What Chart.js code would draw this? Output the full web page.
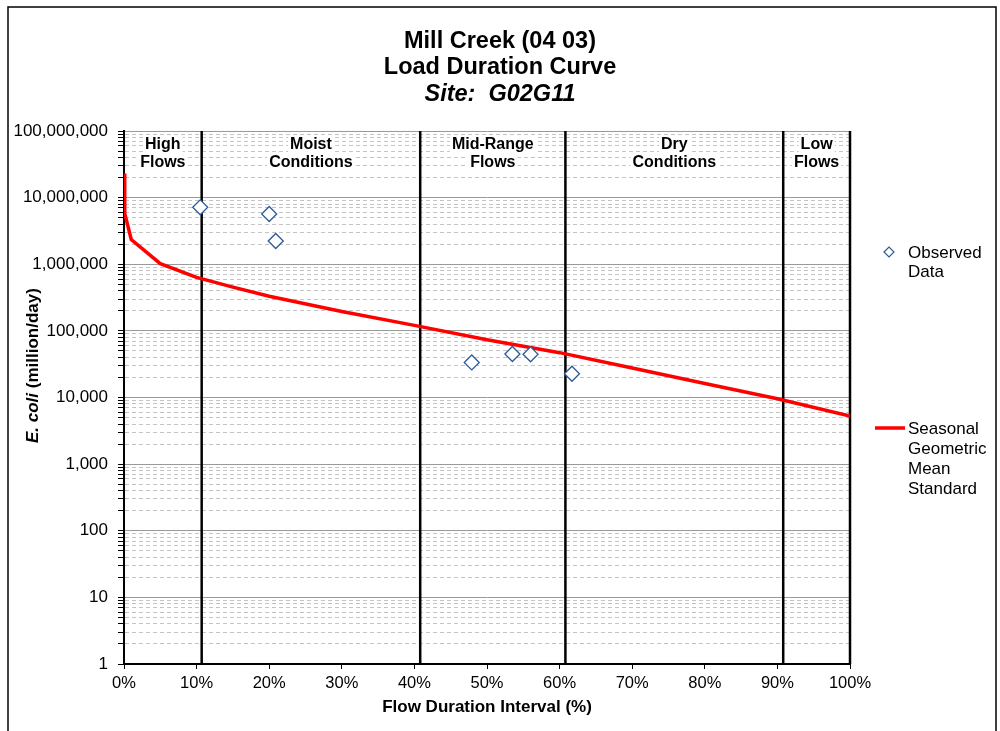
<!DOCTYPE html>
<html>
<head>
<meta charset="utf-8">
<script src="https://cdn.jsdelivr.net/npm/chart.js@4.4.1/dist/chart.umd.min.js"></script>
<style>
    html, body { margin: 0; padding: 0; background: #fff; }
    #wrap { width: 1000px; height: 731px; }
</style>
</head>
<body>
<div id="wrap"><canvas id="ldc" width="1000" height="731"></canvas></div>
<script>
const FONT = "'Liberation Sans', Arial, Helvetica, sans-serif";

const TITLE_LINES = ['Mill Creek (04 03)', 'Load Duration Curve'];
const SITE_LABEL = 'Site:  G02G11';
const X_TITLE = 'Flow Duration Interval (%)';
const Y_TITLE_ITALIC = 'E. coli';
const Y_TITLE_REST = ' (million/day)';

// seasonal geometric mean standard curve (flow duration %, million/day)
const curveX = [0, 0.1, 1, 5, 10, 15, 20, 30, 40, 50, 60, 70, 80, 90, 100];
const curveY = [23000000, 5800000, 2350000, 1020000, 635000, 453000, 331000, 195000, 121000, 73400, 47100, 27700, 16200, 9600, 5260];

// observed samples
const obsX = [10.5, 20.0, 20.9, 47.9, 53.5, 56.0, 61.7];
const obsY = [7150000, 5680000, 2230000, 33600, 44900, 44500, 22700];

// flow regime dividers and labels
const dividerX = [10.7, 40.8, 60.8, 90.8, 100];
const zoneLabels = [
    ['High', 'Flows'],
    ['Moist', 'Conditions'],
    ['Mid-Range', 'Flows'],
    ['Dry', 'Conditions'],
    ['Low', 'Flows'],
];

const yTickValues = [];
for (let e = 0; e < 8; e++) {
    for (let m = 1; m < 10; m++) yTickValues.push(m * Math.pow(10, e));
}
yTickValues.push(100000000);

const LEGEND_OBS = ['Observed', 'Data'];
const LEGEND_STD = ['Seasonal', 'Geometric', 'Mean', 'Standard'];

const OBS_COLOR = '#2E5A9A';
const STD_COLOR = '#FF0000';

function isPow10(v) {
    const l = Math.log10(v);
    return Math.abs(l - Math.round(l)) < 1e-9;
}

const decor = {
    id: 'decor',
    afterDraw(chart) {
        const { ctx, scales: { x, y } } = chart;
        ctx.save();

        ctx.strokeStyle = '#000';
        ctx.lineWidth = 1.5;
        ctx.strokeRect(8, 7, 988, 740);

        ctx.fillStyle = '#000';
        ctx.textAlign = 'center';
        ctx.textBaseline = 'middle';
        ctx.font = `bold 23.5px ${FONT}`;
        ctx.fillText(TITLE_LINES[0], 500, 42);
        ctx.fillText(TITLE_LINES[1], 500, 68);
        ctx.font = `italic bold 23.5px ${FONT}`;
        ctx.fillText(SITE_LABEL, 500, 95);

        // zone labels
        const bounds = [0, ...dividerX];
        ctx.font = `bold 16px ${FONT}`;
        zoneLabels.forEach((lines, i) => {
            const cx = (x.getPixelForValue(bounds[i]) + x.getPixelForValue(bounds[i + 1])) / 2;
            lines.forEach((t, j) => {
                const ly = 145 + j * 18;
                const w = ctx.measureText(t).width;
                ctx.fillStyle = '#fff';
                ctx.fillRect(cx - w / 2 - 2, ly - 8, w + 4, 16);
                ctx.fillStyle = '#000';
                ctx.fillText(t, cx, ly);
            });
        });

        // x axis title
        ctx.font = `bold 17px ${FONT}`;
        ctx.fillText(X_TITLE, (x.left + x.right) / 2, 707);

        // y axis title
        ctx.save();
        ctx.translate(33, 443);
        ctx.rotate(-Math.PI / 2);
        ctx.textAlign = 'left';
        ctx.font = `italic bold 17px ${FONT}`;
        const w1 = ctx.measureText(Y_TITLE_ITALIC).width;
        ctx.fillText(Y_TITLE_ITALIC, 0, 0);
        ctx.font = `bold 17px ${FONT}`;
        ctx.fillText(Y_TITLE_REST, w1, 0);
        ctx.restore();

        // legend
        ctx.textAlign = 'left';
        ctx.font = `17px ${FONT}`;
        ctx.strokeStyle = OBS_COLOR;
        ctx.lineWidth = 1.2;
        ctx.beginPath();
        ctx.moveTo(884, 252);
        ctx.lineTo(889, 247);
        ctx.lineTo(894, 252);
        ctx.lineTo(889, 257);
        ctx.closePath();
        ctx.stroke();
        LEGEND_OBS.forEach((t, i) => ctx.fillText(t, 908, 253 + i * 19.5));

        ctx.strokeStyle = STD_COLOR;
        ctx.lineWidth = 3.5;
        ctx.beginPath();
        ctx.moveTo(875, 428);
        ctx.lineTo(905, 428);
        ctx.stroke();
        LEGEND_STD.forEach((t, i) => ctx.fillText(t, 908, 429 + i * 20));

        ctx.restore();
    },
};

const dividerSets = dividerX.map((v) => ({
    label: 'divider',
    data: [{ x: v, y: 1 }, { x: v, y: 100000000 }],
    showLine: true,
    borderColor: '#000',
    borderWidth: 2.5,
    pointRadius: 0,
    clip: false,
    order: 3,
}));

new Chart(document.getElementById('ldc'), {
    type: 'scatter',
    data: {
        datasets: [
            {
                label: 'Observed Data',
                data: obsX.map((v, i) => ({ x: v, y: obsY[i] })),
                pointStyle: 'rectRot',
                pointRadius: 7.5,
                pointBorderWidth: 1.3,
                borderColor: OBS_COLOR,
                backgroundColor: '#ffffff',
                order: 1,
            },
            {
                label: 'Seasonal Geometric Mean Standard',
                data: curveX.map((v, i) => ({ x: v, y: curveY[i] })),
                showLine: true,
                borderColor: STD_COLOR,
                borderWidth: 3.5,
                pointRadius: 0,
                tension: 0,
                order: 2,
            },
            ...dividerSets,
        ],
    },
    options: {
        responsive: false,
        animation: false,
        events: [],
        layout: { padding: { left: 0, right: 150, top: 131, bottom: 0 } },
        plugins: {
            legend: { display: false },
            tooltip: { enabled: false },
            title: { display: false },
        },
        scales: {
            x: {
                type: 'linear',
                min: 0,
                max: 100,
                afterFit: (s) => { s.height = 67; },
                ticks: {
                    stepSize: 10,
                    color: '#000',
                    padding: 5,
                    font: { family: FONT, size: 16.5 },
                    callback: (v) => `${v}%`,
                },
                grid: {
                    drawOnChartArea: false,
                    drawTicks: true,
                    tickLength: 5,
                    tickColor: '#000',
                },
                border: { color: '#000', width: 2 },
            },
            y: {
                type: 'logarithmic',
                min: 1,
                max: 100000000,
                afterFit: (s) => { s.width = 124; },
                afterBuildTicks: (s) => {
                    s.ticks = yTickValues.map((v) => ({ value: v, major: isPow10(v) }));
                },
                ticks: {
                    autoSkip: false,
                    color: '#000',
                    padding: 10,
                    font: { family: FONT, size: 17 },
                    callback: (v) => (isPow10(Number(v)) ? Number(v).toLocaleString('en-US') : ''),
                },
                grid: {
                    drawTicks: true,
                    tickLength: 6,
                    tickColor: '#000',
                    color: (c) => (c.tick && isPow10(c.tick.value) ? '#9a9a9a' : '#c4c4c4'),
                    lineWidth: 1,
                },
                border: {
                    color: '#000',
                    width: 2,
                    dash: (c) => (c.tick && !isPow10(c.tick.value) ? [4, 3] : []),
                },
            },
        },
    },
    plugins: [decor],
});
</script>
</body>
</html>
